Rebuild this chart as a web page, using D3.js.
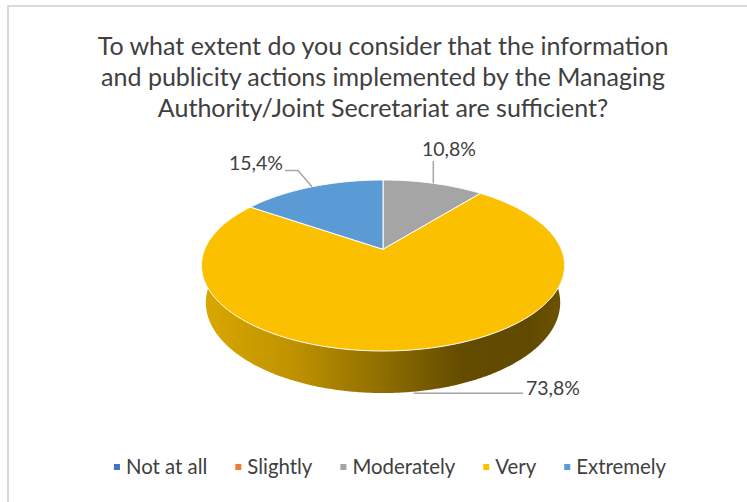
<!DOCTYPE html>
<html>
<head>
<meta charset="utf-8">
<script src="https://cdn.jsdelivr.net/npm/d3@7/dist/d3.min.js"></script>
<style>
  html, body { margin: 0; padding: 0; background: #fff; }
  svg { display: block; }
  text { font-family: Lato, "Open Sans", sans-serif; }
</style>
</head>
<body>
<svg id="chart" width="747" height="502"></svg>
<script>
// Survey answers and their shares (%)
const categories = ["Not at all", "Slightly", "Moderately", "Very", "Extremely"];
const shares = [0, 0, 10.8, 73.8, 15.4];
const labels = ["", "", "10,8%", "73,8%", "15,4%"];
const colors = ["#4472C4", "#ED7D31", "#A5A5A5", "#FBC000", "#5B9BD5"];
const titleLines = [
  "To what extent do you consider that the information",
  "and publicity actions implemented by the Managing",
  "Authority/Joint Secretariat are sufficient?"
];

const W = 747, H = 502;
const svg = d3.select("#chart");

// chart frame
svg.append("rect")
  .attr("x", 8).attr("y", 6).attr("width", W + 10).attr("height", H + 10)
  .attr("fill", "#fff").attr("stroke", "#D9D9D9").attr("stroke-width", 2);

// shrink/grow a text element's font so that it spans the given width
function fitWidth(sel, target, base) {
  sel.style("font-size", base + "px");
  const w = sel.node().getComputedTextLength();
  const size = base * target / w;
  sel.style("font-size", size + "px");
  return size;
}

// ---- title ----
const titleG = svg.append("g");
const tl = titleG.selectAll("text").data(titleLines).join("text")
  .attr("x", 383)
  .attr("y", (d, i) => 55 + i * 30.8)
  .attr("text-anchor", "middle")
  .attr("fill", "#404040")
  .text(d => d);
const tSize = fitWidth(tl.filter((d, i) => i === 0), 571, 20);
tl.style("font-size", tSize + "px");

// ---- 3D pie projection ----
// circle of unit radius, tilted away from the viewer and seen in perspective
const cx = 383, cy = 249.3, focal = 833.9;
const rad = 0.2137, depth = 0.0506;
const sinT = 0.4626, cosT = Math.sqrt(1 - sinT * sinT);

function project(theta, bottom) {
  const X = rad * Math.sin(theta);
  const Y = rad * Math.cos(theta);
  const z = bottom ? -depth : 0;
  const s = Y * sinT + z * cosT;
  const d = 1 + Y * cosT - z * sinT;
  return [cx + focal * X / d, cy - focal * s / d];
}

const pie = d3.pie().sort(null).value(d => d.value)
  .startAngle(0).endAngle(2 * Math.PI);
const arcs = pie(categories.map((c, i) => ({ name: c, value: shares[i], color: colors[i], label: labels[i] })));

function sampleAngles(a0, a1) {
  const n = Math.max(2, Math.ceil((a1 - a0) / 0.01));
  return d3.range(n + 1).map(k => a0 + (a1 - a0) * k / n);
}

const line = d3.line();

// gradient for the visible rim
const defs = svg.append("defs");
const grad = defs.append("linearGradient")
  .attr("id", "rimVery")
  .attr("gradientUnits", "userSpaceOnUse")
  .attr("x1", 202).attr("y1", 0).attr("x2", 565).attr("y2", 0);
[[0, "#DAA800"], [0.25, "#BF9200"], [0.5, "#8E6D00"], [0.72, "#634B00"], [0.9, "#614900"], [1, "#6E5300"]]
  .forEach(([o, c]) => grad.append("stop").attr("offset", o).attr("stop-color", c));

// rim (front part only, where the side can be seen)
const frontA = 1.2, frontB = 2 * Math.PI - 1.2;
const rimG = svg.append("g");
arcs.filter(a => a.value > 0).forEach(a => {
  const a0 = Math.max(a.startAngle, frontA), a1 = Math.min(a.endAngle, frontB);
  if (a1 <= a0) return;
  const angs = sampleAngles(a0, a1);
  const pts = angs.map(t => project(t, false))
    .concat(angs.slice().reverse().map(t => project(t, true)));
  rimG.append("path")
    .attr("d", line(pts) + "Z")
    .attr("fill", a.data.name === "Very" ? "url(#rimVery)" : d3.color(a.data.color).darker(1.2));
});

// top faces
const topG = svg.append("g");
arcs.filter(a => a.value > 0).forEach(a => {
  const pts = [[cx, cy]]
    .concat(sampleAngles(a.startAngle, a.endAngle).map(t => project(t, false)));
  topG.append("path")
    .attr("d", line(pts) + "Z")
    .attr("fill", a.data.color)
    .attr("stroke", "#fff").attr("stroke-width", 1).attr("stroke-linejoin", "round");
});

// ---- data labels with leader lines ----
const labG = svg.append("g");
const leader = d3.line();
function sliceOf(name) { return arcs.find(a => a.data.name === name); }

function addLabel(sel, text, x, y, anchor) {
  return sel.append("text").attr("x", x).attr("y", y)
    .attr("text-anchor", anchor).attr("fill", "#404040").text(text);
}

const lblItems = [];
// Moderately
{
  const a = sliceOf("Moderately");
  const p = project((a.startAngle + a.endAngle) / 2, false);
  labG.append("path").attr("d", leader([[p[0], 161], p]))
    .attr("fill", "none").attr("stroke", "#A6A6A6").attr("stroke-width", 1.5);
  lblItems.push(addLabel(labG, a.data.label, 449, 156, "middle"));
}
// Extremely
{
  const a = sliceOf("Extremely");
  const p = project((a.startAngle + a.endAngle) / 2, false);
  labG.append("path").attr("d", leader([[285, 170.5], [298, 170.5], p]))
    .attr("fill", "none").attr("stroke", "#A6A6A6").attr("stroke-width", 1.5);
  lblItems.push(addLabel(labG, a.data.label, 283, 170, "end"));
}
// Very
{
  const a = sliceOf("Very");
  const p = project((a.startAngle + a.endAngle) / 2, true);
  labG.append("path").attr("d", leader([[p[0], p[1] + 1.5], [523, p[1] + 1.5]]))
    .attr("fill", "none").attr("stroke", "#A6A6A6").attr("stroke-width", 1.5);
  lblItems.push(addLabel(labG, a.data.label, 526, 395, "start"));
}
const lSize = fitWidth(lblItems[0], 54, 18);
lblItems.forEach(t => t.style("font-size", lSize + "px"));

// ---- legend ----
const legG = svg.append("g");
const items = categories.map((c, i) => {
  const g = legG.append("g");
  g.append("rect").attr("width", 6).attr("height", 6).attr("y", -10).attr("fill", colors[i]);
  const t = g.append("text").attr("x", 12).attr("y", 0).attr("fill", "#404040").text(c);
  return { g, t };
});
const legSize = fitWidth(items[2].t, 103, 16);
items.forEach(it => it.t.style("font-size", legSize + "px"));
const gap = 28;
const widths = items.map(it => 12 + it.t.node().getComputedTextLength());
const total = d3.sum(widths) + gap * (items.length - 1);
let x0 = 390 - total / 2;
items.forEach((it, i) => {
  it.g.attr("transform", `translate(${x0},474)`);
  x0 += widths[i] + gap;
});
</script>
</body>
</html>
